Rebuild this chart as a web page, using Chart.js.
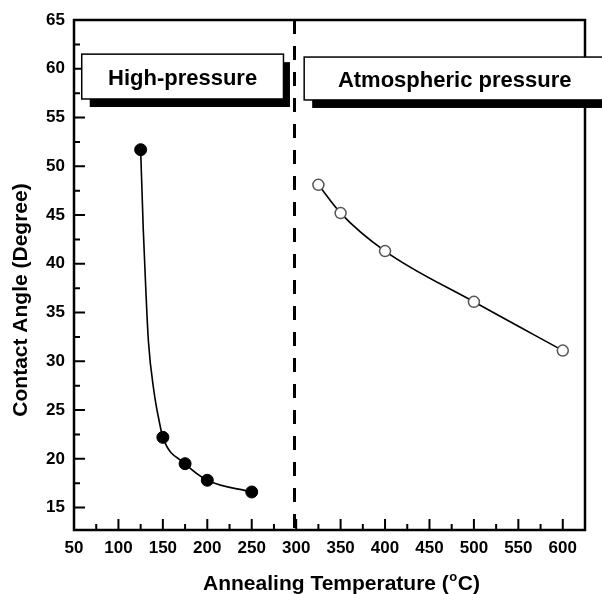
<!DOCTYPE html>
<html><head><meta charset="utf-8">
<script src="https://cdn.jsdelivr.net/npm/chart.js@4"></script>
<style>html,body{margin:0;padding:0;background:#fff}#wrap{width:602px;height:594px}</style>
</head><body><div id="wrap"><canvas id="c" width="602" height="594"></canvas></div>
<script>
// ---- data ----
const hpTemp  = [125, 150, 175, 200, 250];
const hpAngle = [51.7, 22.2, 19.5, 17.8, 16.6];
const apTemp  = [325, 350, 400, 500, 600];
const apAngle = [48.1, 45.2, 41.3, 36.1, 31.1];
// points (high-pressure)
const hpFitTemp  = [125, 128, 130.7, 133.7, 140, 146, 150, 175, 200, 250];
const hpFitAngle = [51.7, 43.4, 37.6, 32.1, 26.9, 23.8, 22.2, 19.5, 17.8, 16.6];
// tick labels
const xTicks = [50,100,150,200,250,300,350,400,450,500,550,600];
const xMinor = [75,125,175,225,275,325,375,425,475,525,575];
const yTicks = [15,20,25,30,35,40,45,50,55,60,65];
const yMinor = [17.5,22.5,27.5,32.5,37.5,42.5,47.5,52.5,57.5,62.5];
const boxLabels = ["High-pressure", "Atmospheric pressure"];
const xTitle = ["Annealing Temperature (", "o", "C)"];
const yTitle = "Contact Angle (Degree)";
const dividerTemp = 297;

// ---- layout / style (not data) ----
const boxes = [
  {x0: 58.7, x1: 285.7, y0: 61.5, y1: 56.9, shadowRight: 293},
  {x0: 309, x1: 665, y0: 61.2, y1: 56.8, shadowRight: 665}
];
const FONT = "'Liberation Sans', Arial, sans-serif";

const toXY = (xs, ys) => xs.map((x, i) => ({x, y: ys[i]}));

const decor = {
  id: 'decor',
  beforeDatasetsDraw(chart) {
    const {ctx, chartArea: a, scales: {x, y}} = chart;
    ctx.save();
    ctx.strokeStyle = '#000';
    ctx.lineWidth = 3;
    ctx.setLineDash([14, 12]);
    const dx = Math.round(x.getPixelForValue(dividerTemp)) + 0.5;
    ctx.beginPath(); ctx.moveTo(dx, a.top); ctx.lineTo(dx, a.bottom); ctx.stroke();
    ctx.setLineDash([]);
    ctx.lineWidth = 2;
    ctx.beginPath();
    xTicks.forEach(v => { const p = x.getPixelForValue(v); ctx.moveTo(p, a.bottom); ctx.lineTo(p, a.bottom - 11); });
    xMinor.forEach(v => { const p = x.getPixelForValue(v); ctx.moveTo(p, a.bottom); ctx.lineTo(p, a.bottom - 6); });
    yTicks.forEach(v => { const p = y.getPixelForValue(v); ctx.moveTo(a.left, p); ctx.lineTo(a.left + 11, p); });
    yMinor.forEach(v => { const p = y.getPixelForValue(v); ctx.moveTo(a.left, p); ctx.lineTo(a.left + 6, p); });
    ctx.stroke();
    ctx.lineWidth = 2.5;
    ctx.strokeRect(a.left, a.top, a.right - a.left, a.bottom - a.top);
    ctx.restore();
  },
  afterDatasetsDraw(chart) {
    const {ctx, scales: {x, y}} = chart;
    ctx.save();
    boxes.forEach((b, i) => {
      const L = x.getPixelForValue(b.x0), R = x.getPixelForValue(b.x1);
      const T = y.getPixelForValue(b.y0), B = y.getPixelForValue(b.y1);
      const SR = x.getPixelForValue(b.shadowRight);
      ctx.fillStyle = '#000';
      ctx.fillRect(L + 8, T + 8, SR - L - 8, B - T);
      ctx.fillStyle = '#fff';
      ctx.fillRect(L, T, R - L, B - T);
      ctx.strokeStyle = '#000';
      ctx.lineWidth = 1.5;
      ctx.strokeRect(L, T, R - L, B - T);
      ctx.fillStyle = '#000';
      ctx.font = 'bold 22px ' + FONT;
      ctx.textBaseline = 'alphabetic';
      ctx.textAlign = 'center';
      const cx = i === 0 ? (L + R) / 2 : L + 150.5;
      ctx.fillText(boxLabels[i], cx, (T + B) / 2 + 8);
    });
    ctx.restore();
  },
  afterDraw(chart) {
    const {ctx, chartArea: a} = chart;
    ctx.save();
    ctx.fillStyle = '#000';
    ctx.textBaseline = 'alphabetic';
    ctx.textAlign = 'left';
    const big = 'bold 21px ' + FONT, small = 'bold 13px ' + FONT;
    ctx.font = big; const w0 = ctx.measureText(xTitle[0]).width, w2 = ctx.measureText(xTitle[2]).width;
    ctx.font = small; const w1 = ctx.measureText(xTitle[1]).width;
    const tw = w0 + w1 + w2 + 1;
    let sx = (a.left + a.right) / 2 + 12 - tw / 2;
    const by = 590;
    ctx.font = big; ctx.fillText(xTitle[0], sx, by);
    ctx.font = small; ctx.fillText(xTitle[1], sx + w0 + 0.5, by - 9);
    ctx.font = big; ctx.fillText(xTitle[2], sx + w0 + w1 + 1, by);
    ctx.translate(27, (a.top + a.bottom) / 2 + 25);
    ctx.rotate(-Math.PI / 2);
    ctx.textAlign = 'center';
    ctx.font = big;
    ctx.fillText(yTitle, 0, 0);
    ctx.restore();
  }
};

new Chart(document.getElementById('c'), {
  type: 'scatter',
  data: {
    datasets: [
      {label: 'HP', data: toXY(hpTemp, hpAngle), showLine: false, pointRadius: 6,
       pointBackgroundColor: '#000', pointBorderColor: '#000', pointBorderWidth: 1, order: 0},
      {label: 'AP', data: toXY(apTemp, apAngle), showLine: false, pointRadius: 5.5,
       pointBackgroundColor: '#fff', pointBorderColor: '#555', pointBorderWidth: 1.5, order: 0},
      {label: 'HP fit', data: toXY(hpFitTemp, hpFitAngle), showLine: true, pointRadius: 0,
       borderColor: '#000', borderWidth: 1.6, cubicInterpolationMode: 'monotone', order: 1},
      {label: 'AP fit', data: toXY(apTemp, apAngle), showLine: true, pointRadius: 0,
       borderColor: '#000', borderWidth: 1.6, cubicInterpolationMode: 'monotone', order: 1}
    ]
  },
  options: {
    responsive: false,
    animation: false,
    devicePixelRatio: 1,
    layout: {padding: {top: 20, right: 17, left: 0, bottom: 0}},
    plugins: {legend: {display: false}, tooltip: {enabled: false}},
    scales: {
      x: {
        type: 'linear', min: 50, max: 625,
        afterBuildTicks: s => { s.ticks = xTicks.map(v => ({value: v})); },
        afterFit: s => { s.height = 64; },
        grid: {display: false, drawTicks: false},
        border: {display: false},
        ticks: {color: '#000', font: {family: FONT, size: 17, weight: 'bold'}, padding: 8, maxRotation: 0, autoSkip: false}
      },
      y: {
        type: 'linear', min: 12.7, max: 65,
        afterBuildTicks: s => { s.ticks = yTicks.map(v => ({value: v})); },
        afterFit: s => { s.width = 74; },
        grid: {display: false, drawTicks: false},
        border: {display: false},
        ticks: {color: '#000', font: {family: FONT, size: 17, weight: 'bold'}, padding: 9, autoSkip: false}
      }
    }
  },
  plugins: [decor]
});
</script>
</body></html>
